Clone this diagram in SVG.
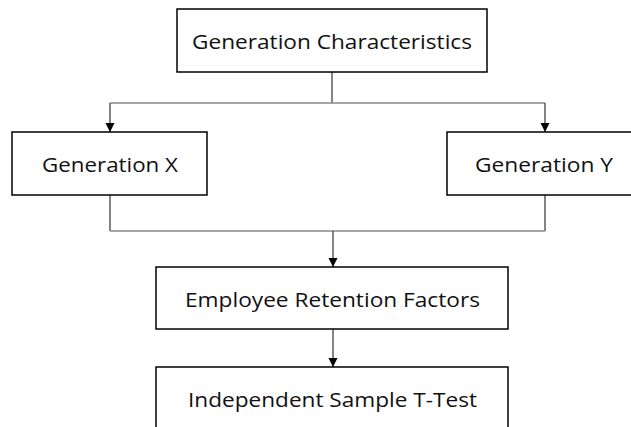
<svg xmlns="http://www.w3.org/2000/svg" width="631" height="427" viewBox="0 0 631 427">
<style>
.box{fill:#fff;stroke:#000;stroke-width:1.5}
.lbl{font-family:"Open Sans","Noto Sans","Liberation Sans",sans-serif;font-size:19.5px;fill:#111;text-anchor:middle}
.v{stroke:#333;stroke-width:1.2;fill:none}
.h{stroke:#8a8a8a;stroke-width:1.5;fill:none}
</style>
<defs>
<marker id="arr" markerUnits="userSpaceOnUse" markerWidth="9" markerHeight="10" refX="9" refY="4.5" orient="auto">
<path d="M0,0 L9,4.5 L0,9 z" fill="#000"/>
</marker>
</defs>
<rect width="631" height="427" fill="#fff"/>
<g id="connectors">
<line class="v" x1="332" y1="72" x2="332" y2="103"/>
<line class="h" x1="110" y1="103" x2="545" y2="103"/>
<line class="v" x1="110" y1="103" x2="110" y2="132" marker-end="url(#arr)"/>
<line class="v" x1="545" y1="103" x2="545" y2="132" marker-end="url(#arr)"/>
<line class="v" x1="110" y1="195" x2="110" y2="231"/>
<line class="v" x1="545" y1="195" x2="545" y2="231"/>
<line class="h" x1="110" y1="231" x2="545" y2="231"/>
<line class="v" x1="333" y1="231" x2="333" y2="267" marker-end="url(#arr)"/>
<line class="v" x1="333" y1="329" x2="333" y2="367" marker-end="url(#arr)"/>
</g>
<g id="gen-char">
<rect class="box" x="177" y="9" width="310" height="63"/>
<text class="lbl" x="332" y="49" textLength="280" lengthAdjust="spacingAndGlyphs">Generation Characteristics</text>
</g>
<g id="gen-x">
<rect class="box" x="12" y="132" width="195" height="63"/>
<text class="lbl" x="110" y="172" textLength="136" lengthAdjust="spacingAndGlyphs">Generation X</text>
</g>
<g id="gen-y">
<rect class="box" x="447" y="132" width="200" height="63"/>
<text class="lbl" x="544" y="172" textLength="138" lengthAdjust="spacingAndGlyphs">Generation Y</text>
</g>
<g id="retention">
<rect class="box" x="156" y="267" width="352" height="62"/>
<text class="lbl" x="332.5" y="307" textLength="295" lengthAdjust="spacingAndGlyphs">Employee Retention Factors</text>
</g>
<g id="ttest">
<rect class="box" x="156" y="367" width="352" height="75"/>
<text class="lbl" x="332.5" y="407" textLength="289" lengthAdjust="spacingAndGlyphs">Independent Sample T-Test</text>
</g>
</svg>
